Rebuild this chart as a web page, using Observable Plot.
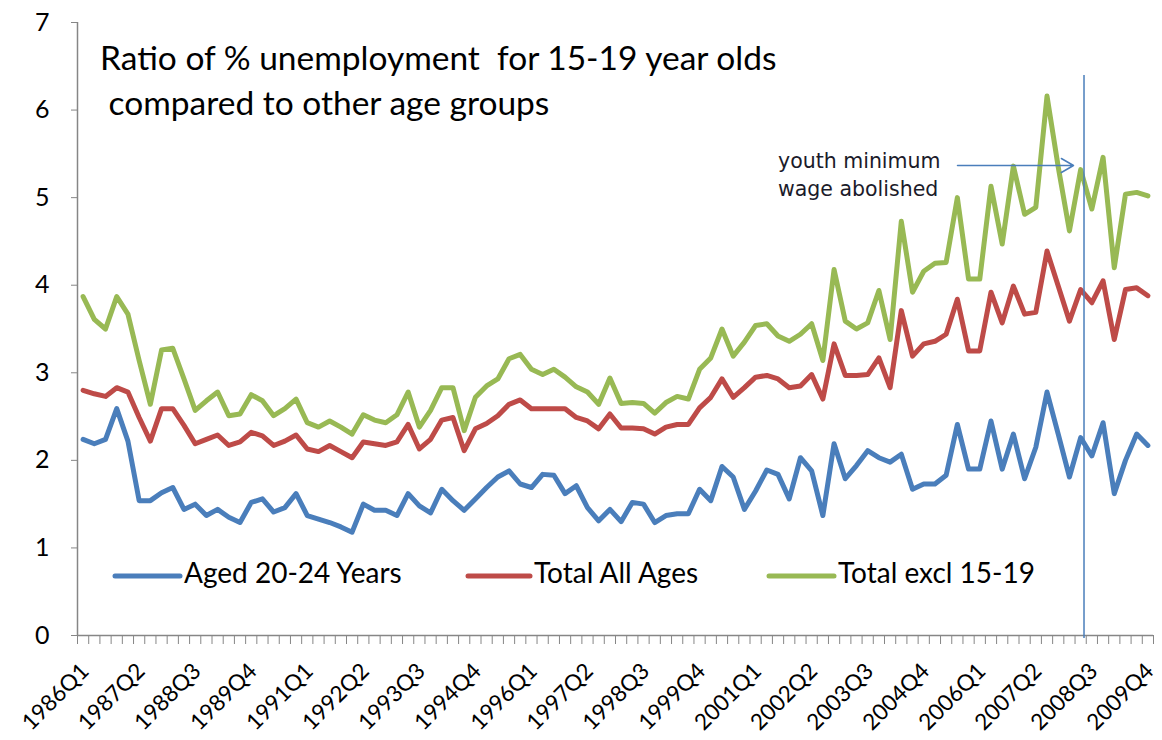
<!DOCTYPE html>
<html><head><meta charset="utf-8">
<script src="https://cdn.jsdelivr.net/npm/d3@7"></script>
<script src="https://cdn.jsdelivr.net/npm/@observablehq/plot@0.6"></script>
<style>html,body{margin:0;padding:0;background:#fff;} #chart svg{display:block;}</style>
</head><body><div id="chart"></div>
<script>
const quarters = [
"1986Q1","1986Q2","1986Q3","1986Q4","1987Q1","1987Q2","1987Q3","1987Q4",
"1988Q1","1988Q2","1988Q3","1988Q4","1989Q1","1989Q2","1989Q3","1989Q4",
"1990Q1","1990Q2","1990Q3","1990Q4","1991Q1","1991Q2","1991Q3","1991Q4",
"1992Q1","1992Q2","1992Q3","1992Q4","1993Q1","1993Q2","1993Q3","1993Q4",
"1994Q1","1994Q2","1994Q3","1994Q4","1995Q1","1995Q2","1995Q3","1995Q4",
"1996Q1","1996Q2","1996Q3","1996Q4","1997Q1","1997Q2","1997Q3","1997Q4",
"1998Q1","1998Q2","1998Q3","1998Q4","1999Q1","1999Q2","1999Q3","1999Q4",
"2000Q1","2000Q2","2000Q3","2000Q4","2001Q1","2001Q2","2001Q3","2001Q4",
"2002Q1","2002Q2","2002Q3","2002Q4","2003Q1","2003Q2","2003Q3","2003Q4",
"2004Q1","2004Q2","2004Q3","2004Q4","2005Q1","2005Q2","2005Q3","2005Q4",
"2006Q1","2006Q2","2006Q3","2006Q4","2007Q1","2007Q2","2007Q3","2007Q4",
"2008Q1","2008Q2","2008Q3","2008Q4","2009Q1","2009Q2","2009Q3","2009Q4"];

const tickLabels = ["1986Q1","1987Q2","1988Q3","1989Q4","1991Q1","1992Q2","1993Q3","1994Q4",
"1996Q1","1997Q2","1998Q3","1999Q4","2001Q1","2002Q2","2003Q3","2004Q4",
"2006Q1","2007Q2","2008Q3","2009Q4"];

const yTicks = [0,1,2,3,4,5,6,7];

const seriesNames = ["Aged 20-24 Years","Total All Ages","Total excl 15-19"];
const seriesColors = ["#4A7EBB","#BE4B48","#98B954"];

const aged2024 = [
2.24,2.19,2.24,2.59,2.22,1.54,1.54,1.63,1.69,1.44,1.50,1.37,1.44,1.35,1.29,1.52,
1.56,1.41,1.46,1.62,1.37,1.33,1.29,1.24,1.18,1.50,1.43,1.43,1.37,1.62,1.48,1.40,
1.67,1.54,1.43,1.56,1.69,1.81,1.88,1.73,1.69,1.84,1.83,1.62,1.71,1.46,1.31,1.44,
1.30,1.52,1.50,1.29,1.37,1.39,1.39,1.67,1.54,1.93,1.81,1.44,1.65,1.89,1.84,1.56,
2.03,1.88,1.37,2.19,1.79,1.94,2.11,2.03,1.98,2.07,1.67,1.73,1.73,1.83,2.41,1.90,
1.90,2.45,1.90,2.30,1.79,2.15,2.78,2.30,1.81,2.26,2.05,2.43,1.62,2.00,2.30,2.17];

const totalAll = [
2.80,2.76,2.73,2.83,2.78,2.49,2.22,2.59,2.59,2.40,2.19,2.24,2.29,2.17,2.21,2.32,
2.28,2.17,2.22,2.29,2.13,2.10,2.17,2.10,2.03,2.21,2.19,2.17,2.21,2.41,2.13,2.24,
2.46,2.49,2.11,2.36,2.42,2.51,2.64,2.69,2.59,2.59,2.59,2.59,2.49,2.45,2.36,2.53,
2.37,2.37,2.36,2.30,2.38,2.41,2.41,2.60,2.72,2.93,2.72,2.83,2.95,2.97,2.93,2.83,
2.85,2.98,2.70,3.33,2.97,2.97,2.98,3.17,2.83,3.71,3.19,3.33,3.36,3.44,3.84,3.25,
3.25,3.92,3.57,3.99,3.67,3.69,4.39,3.99,3.59,3.95,3.80,4.05,3.38,3.95,3.97,3.88];

const totalExcl = [
3.87,3.61,3.50,3.87,3.67,3.14,2.64,3.26,3.28,2.93,2.57,2.68,2.78,2.51,2.53,2.75,
2.68,2.51,2.59,2.70,2.43,2.38,2.45,2.38,2.30,2.52,2.46,2.43,2.52,2.78,2.38,2.57,
2.83,2.83,2.34,2.72,2.85,2.93,3.16,3.21,3.04,2.98,3.04,2.95,2.84,2.78,2.64,2.94,
2.65,2.66,2.65,2.54,2.66,2.73,2.70,3.04,3.17,3.50,3.19,3.35,3.54,3.56,3.42,3.36,
3.44,3.56,3.14,4.18,3.59,3.50,3.57,3.94,3.38,4.73,3.92,4.16,4.25,4.26,5.00,4.07,
4.07,5.13,4.47,5.36,4.81,4.89,6.16,5.35,4.62,5.32,4.87,5.46,4.20,5.04,5.06,5.02];

const titleLines = ["Ratio of % unemployment  for 15-19 year olds", " compared to other age groups"];
const noteLines = ["youth minimum", "wage abolished"];
const policyQuarter = "2008Q2";

// ---- build tables ----
const seriesValues = [aged2024, totalAll, totalExcl];
const rows = seriesValues.flatMap((vals, s) =>
  vals.map((v, i) => ({i, q: quarters[i], v, s: seriesNames[s]})));

const W = 1162, H = 740;
const mL = 77, mR = 9, mT = 22, mB = 105;
const font = "Lato, 'Open Sans', sans-serif";
const axisGray = "#868686";

const xFor = px => -0.5 + (px - mL) / ((W - mL - mR) / quarters.length);
const yFor = py => 7 * (H - mB - py) / (H - mB - mT);

const boundaries = d3.range(-0.5, quarters.length, 1);
const labelIdx = tickLabels.map(t => quarters.indexOf(t));
const policyX = quarters.indexOf(policyQuarter) + 0.3;

const plot = Plot.plot({
  width: W, height: H,
  marginLeft: mL, marginRight: mR, marginTop: mT, marginBottom: mB,
  style: {fontFamily: font, background: "#fff", color: "#000", overflow: "visible"},
  x: {domain: [-0.5, quarters.length - 0.5], axis: null},
  y: {domain: [0, 7], axis: null},
  color: {domain: seriesNames, range: seriesColors},
  marks: [
    Plot.axisY({ticks: yTicks, tickSize: 6, tickPadding: 22, fontSize: 25, stroke: axisGray, fill: "#000",
      tickFormat: d => String(d), label: null}),
    Plot.axisX({ticks: boundaries, tickSize: 9, stroke: axisGray, tickFormat: () => "", label: null}),
    Plot.text(labelIdx, {x: d => d, y: 0, text: d => quarters[d], rotate: -45,
      textAnchor: "end", lineAnchor: "middle", dx: 2, dy: 32, fontSize: 22.5, fill: "#000"}),
    Plot.ruleX([-0.5], {stroke: axisGray, strokeWidth: 1.5}),
    Plot.ruleY([0], {stroke: axisGray, strokeWidth: 1.5}),
    Plot.line(rows, {x: "i", y: "v", z: "s", stroke: "s", strokeWidth: 5, strokeLinejoin: "round", strokeLinecap: "round"}),
    Plot.ruleX([policyX], {x: d => d, y1: yFor(638), y2: yFor(75), stroke: "#4A7EBB", strokeWidth: 1.5}),
    Plot.arrow([0], {x1: xFor(957), x2: xFor(1073), y1: yFor(165), y2: yFor(165),
      stroke: "#4A7EBB", strokeWidth: 1.5, headLength: 14, bend: 0})
  ]
});

document.getElementById("chart").appendChild(plot);
const svg = d3.select(plot);

// title
const title = svg.append("g").attr("font-family", font).attr("font-size", 33.5).attr("fill", "#000")
  .attr("text-anchor", "start");
title.selectAll("text").data(titleLines).join("text")
  .attr("x", 100).attr("y", (d, k) => [62, 107][k])
  .attr("dominant-baseline", "middle")
  .style("white-space", "pre").text(d => d);

// annotation
const note = svg.append("g").attr("font-family", "'DejaVu Sans', sans-serif").attr("font-size", 20.5)
  .attr("fill", "#1b1b2a").attr("text-anchor", "start");
note.selectAll("text").data(noteLines).join("text")
  .attr("x", 778).attr("y", (d, k) => [162, 190][k])
  .attr("dominant-baseline", "middle").text(d => d);

// legend
const legendPos = [[115, 180, 184], [468, 530, 534], [769, 834, 838]];
const lg = svg.append("g").attr("font-family", font).attr("font-size", 28).attr("fill", "#000")
  .attr("text-anchor", "start");
seriesNames.forEach((name, k) => {
  const [a, b, t] = legendPos[k];
  lg.append("line").attr("x1", a).attr("x2", b).attr("y1", 576).attr("y2", 576)
    .attr("stroke", seriesColors[k]).attr("stroke-width", 5).attr("stroke-linecap", "round");
  lg.append("text").attr("x", t).attr("y", 576).attr("dominant-baseline", "middle").text(name);
});
</script>
</body></html>
